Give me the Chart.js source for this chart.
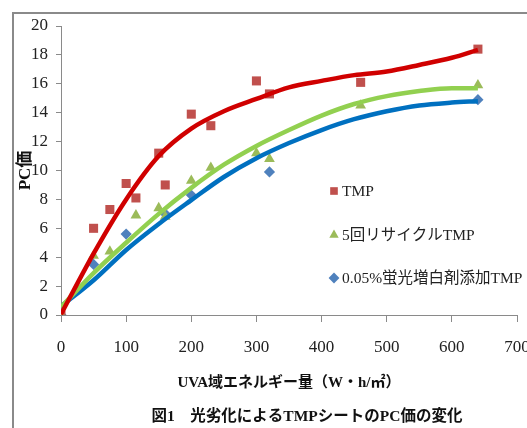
<!DOCTYPE html>
<html><head><meta charset="utf-8">
<script src="https://cdn.jsdelivr.net/npm/chart.js@4/dist/chart.umd.min.js"></script>
<style>html,body{margin:0;padding:0;background:#fff;}#wrap{width:527px;height:428px;position:relative;}</style>
</head><body><div id="wrap"><canvas id="c" width="527" height="428"></canvas></div>
<script>
// ---- data ----
const xTicks = [0, 100, 200, 300, 400, 500, 600, 700];
const yTicks = [0, 2, 4, 6, 8, 10, 12, 14, 16, 18, 20];
const seriesNames = ['TMP', '5回リサイクルTMP', '0.05%蛍光増白剤添加TMP'];
// measured points
const tmpX = [0, 50, 75, 100, 115, 150, 160, 200, 230, 300, 320, 460, 640];
const tmpY = [0, 6.0, 7.3, 9.1, 8.1, 11.2, 9.0, 13.9, 13.1, 16.2, 15.3, 16.1, 18.4];
const recX = [0, 50, 75, 115, 150, 160, 200, 230, 300, 320, 460, 640];
const recY = [0, 4.1, 4.4, 6.9, 7.4, 6.8, 9.3, 10.2, 11.2, 10.8, 14.5, 15.9];
const fbX = [0, 50, 100, 160, 200, 320, 640];
const fbY = [0, 3.5, 5.6, 7.0, 8.3, 9.9, 14.9];
// trendlines
const trendX    = [0, 50, 100, 150, 200, 250, 300, 350, 400, 450, 500, 550, 600, 640];
const tmpTrend  = [0.05, 4.25, 8.0, 11.0, 12.9, 14.1, 14.95, 15.75, 16.2, 16.6, 16.85, 17.3, 17.8, 18.35];
const recTrend  = [0.55, 2.9, 5.0, 7.0, 8.8, 10.4, 11.7, 12.8, 13.8, 14.6, 15.15, 15.5, 15.7, 15.7];
const fbTrend   = [0.6, 2.4, 4.5, 6.3, 7.95, 9.55, 10.85, 11.9, 12.8, 13.55, 14.1, 14.5, 14.7, 14.8];
const xTitle = 'UVA域エネルギー量（W・h/㎡）';
const yTitle = 'PC価';
const caption = '図1　光劣化によるTMPシートのPC価の変化';

// ---- styles ----
const markerColors = ['#C0504D', '#9BBB59', '#4F81BD'];
const lineColors = ['#D00000', '#92D050', '#0070C0'];
const markerStyles = ['rect', 'triangle', 'rectRot'];
const markerRadius = [6.4, 6.2, 5.6];
const SERIF = '"Liberation Serif", "Noto Sans CJK JP", serif';

const zipXY = (xs, ys) => xs.map((x, i) => ({ x, y: ys[i] }));
const seriesX = [tmpX, recX, fbX], seriesY = [tmpY, recY, fbY];
const trends = [tmpTrend, recTrend, fbTrend];
const pointOrder = [4, 3, 5];
const datasets = [];
for (let i = 0; i < 3; i++) {
  datasets.push({
    label: seriesNames[i], data: zipXY(seriesX[i], seriesY[i]),
    pointStyle: markerStyles[i], pointRadius: markerRadius[i], pointHoverRadius: markerRadius[i],
    backgroundColor: markerColors[i], borderColor: markerColors[i], borderWidth: 0,
    showLine: false, order: pointOrder[i]
  });
}
for (let i = 0; i < 3; i++) {
  datasets.push({
    label: seriesNames[i] + ' trend', data: zipXY(trendX, trends[i]),
    showLine: true, pointRadius: 0, borderColor: lineColors[i], borderWidth: 4.5,
    cubicInterpolationMode: 'monotone', fill: false, order: i
  });
}

const decor = {
  id: 'decor',
  beforeDraw(chart) {
    const ctx = chart.ctx;
    ctx.save();
    ctx.fillStyle = '#fff'; ctx.fillRect(0, 0, chart.width, chart.height);
    ctx.strokeStyle = '#8a8a8a'; ctx.lineWidth = 2;
    ctx.strokeRect(13, 13, chart.width + 20, chart.height + 20);
    ctx.restore();
  },
  afterDraw(chart) {
    const ctx = chart.ctx;
    ctx.save();
    const rows = [191, 235, 278];
    ctx.font = '15.5px ' + SERIF; ctx.textBaseline = 'middle'; ctx.textAlign = 'left';
    for (let i = 0; i < 3; i++) {
      const ds = chart.data.datasets[i];
      ctx.fillStyle = ds.backgroundColor; ctx.strokeStyle = ds.backgroundColor;
      Chart.helpers.drawPoint(ctx, { pointStyle: ds.pointStyle, radius: 5.4, borderWidth: 0, rotation: 0 }, 334, rows[i]);
      ctx.fillStyle = '#222';
      ctx.fillText(ds.label, 342, rows[i] + 1);
    }
    ctx.font = 'bold 15.5px ' + SERIF; ctx.textAlign = 'center'; ctx.fillStyle = '#111';
    ctx.fillText(caption, 307, 417);
    ctx.restore();
  }
};

new Chart(document.getElementById('c'), {
  type: 'scatter',
  data: { datasets },
  options: {
    responsive: false, animation: false, devicePixelRatio: 1,
    layout: { padding: { left: 0, top: 26, right: 10, bottom: 0 } },
    plugins: { legend: { display: false }, tooltip: { enabled: false } },
    scales: {
      x: {
        type: 'linear', min: 0, max: 700,
        afterBuildTicks: s => { s.ticks = xTicks.map(v => ({ value: v })); },
        afterFit: s => { s.height = 113; s.paddingRight = 0; s.paddingLeft = 0; },
        ticks: { font: { family: SERIF, size: 17 }, color: '#222', padding: 15, maxRotation: 0 },
        grid: { drawOnChartArea: false, drawTicks: true, tickLength: 7, color: '#8a8a8a' },
        border: { display: true, color: '#8a8a8a', width: 1 },
        title: { display: true, text: xTitle, color: '#111', font: { family: SERIF, size: 15, weight: 'bold' }, padding: { top: 0, bottom: 36 } }
      },
      y: {
        type: 'linear', min: 0, max: 20,
        afterBuildTicks: s => { s.ticks = yTicks.map(v => ({ value: v })); },
        afterFit: s => { s.width = 61; s.paddingTop = 0; s.paddingBottom = 0; },
        ticks: { font: { family: SERIF, size: 17 }, color: '#222', padding: 8 },
        grid: { drawOnChartArea: false, drawTicks: true, tickLength: 5, color: '#8a8a8a' },
        border: { display: true, color: '#8a8a8a', width: 1 },
        title: { display: true, text: yTitle, color: '#111', font: { family: SERIF, size: 17, weight: 'bold' }, padding: { top: 15, bottom: 0 } }
      }
    }
  },
  plugins: [decor]
});
</script></body></html>
